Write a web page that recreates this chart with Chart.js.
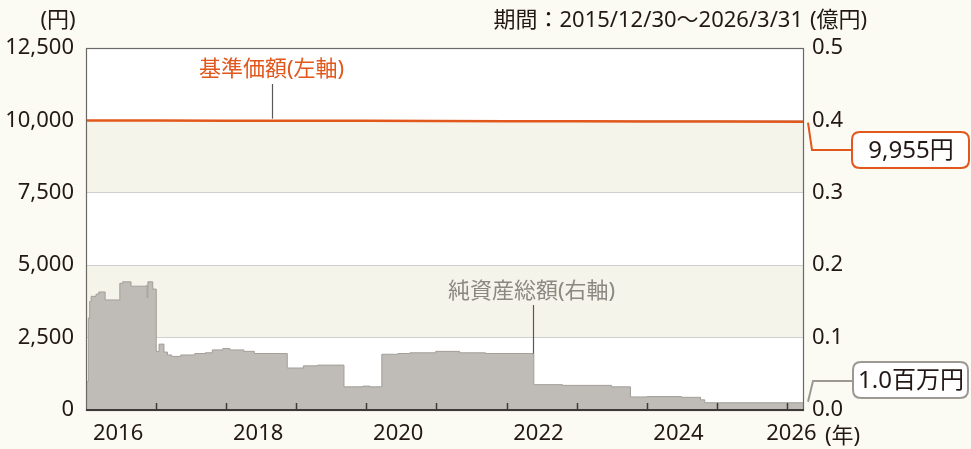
<!DOCTYPE html>
<html lang="ja">
<head>
<meta charset="utf-8">
<script src="https://cdn.jsdelivr.net/npm/chart.js@4/dist/chart.umd.min.js"></script>
<style>
  html, body { margin: 0; padding: 0; background: #fbfaf3; }
  #chart { display: block; }
</style>
</head>
<body>
<canvas id="chart" width="971" height="449"></canvas>
<script>
// 基準価額 (円) - fractional years
const navYears = [2015.997, 2017.0, 2018.0, 2019.0, 2020.0, 2021.0, 2022.0, 2023.0, 2024.0, 2025.0, 2026.247];
const navValues = [10000, 9998, 9991, 9989, 9984, 9976, 9974, 9971, 9963, 9960, 9955];

// 純資産総額 (億円) - value holds until the next date
const assetYears = [
    2015.997, 2016.03, 2016.05, 2016.07, 2016.14, 2016.18, 2016.27, 2016.48, 2016.52, 2016.64,
    2016.86, 2016.87, 2016.88, 2016.95, 2017.0, 2017.04, 2017.11, 2017.16, 2017.22, 2017.35,
    2017.55, 2017.7, 2017.8, 2017.95, 2018.05, 2018.25, 2018.4, 2018.87, 2019.1, 2019.3,
    2019.68, 2019.95, 2020.05, 2020.22, 2020.45, 2020.62, 2020.99, 2021.33, 2021.7, 2022.39,
    2022.8, 2023.5, 2023.77, 2024.0, 2024.5, 2024.77, 2024.83, 2026.247
];
const assetValues = [
    0.039, 0.127, 0.150, 0.157, 0.160, 0.163, 0.152, 0.175, 0.177, 0.171,
    0.172, 0.155, 0.177, 0.167, 0.081, 0.091, 0.080, 0.076, 0.074, 0.076,
    0.078, 0.079, 0.083, 0.085, 0.083, 0.081, 0.078, 0.058, 0.061, 0.062,
    0.032, 0.033, 0.032, 0.077, 0.078, 0.079, 0.081, 0.079, 0.078, 0.035,
    0.034, 0.032, 0.018, 0.0185, 0.0175, 0.014, 0.010, 0.010
];

// x axis labels (years)
const yearLabels = ['2016', '2018', '2020', '2022', '2024', '2026'];
const leftTicks = [0, 2500, 5000, 7500, 10000, 12500];
const rightTicks = [0, 0.1, 0.2, 0.3, 0.4, 0.5];

const FONT = '"Noto Sans", "Noto Sans CJK JP", sans-serif';
const TEXT = '#231815';
const ORANGE = '#e2571c';
const GREY_TEXT = '#8b8884';

function roundRect(ctx, x, y, w, h, r) {
    ctx.beginPath();
    ctx.moveTo(x + r, y);
    ctx.lineTo(x + w - r, y);
    ctx.quadraticCurveTo(x + w, y, x + w, y + r);
    ctx.lineTo(x + w, y + h - r);
    ctx.quadraticCurveTo(x + w, y + h, x + w - r, y + h);
    ctx.lineTo(x + r, y + h);
    ctx.quadraticCurveTo(x, y + h, x, y + h - r);
    ctx.lineTo(x, y + r);
    ctx.quadraticCurveTo(x, y, x + r, y);
    ctx.closePath();
}

// background, plot area and beige bands
const backgroundPlugin = {
    id: 'background',
    beforeDraw(chart) {
        const { ctx, chartArea: a, scales } = chart;
        ctx.save();
        ctx.fillStyle = '#fbfaf3';
        ctx.fillRect(0, 0, chart.width, chart.height);
        ctx.fillStyle = '#ffffff';
        ctx.fillRect(a.left, a.top, a.right - a.left, a.bottom - a.top);
        ctx.fillStyle = '#f5f4ea';
        [[2500, 5000], [7500, 10000]].forEach(([lo, hi]) => {
            const y1 = scales.y.getPixelForValue(hi);
            const y2 = scales.y.getPixelForValue(lo);
            ctx.fillRect(a.left, y1, a.right - a.left, y2 - y1);
        });
        ctx.restore();
    }
};

// frame, inner year ticks, labels and callouts
const decorPlugin = {
    id: 'decor',
    afterDatasetsDraw(chart) {
        const { ctx, chartArea: a, scales } = chart;
        const x = scales.x, y = scales.y, y1 = scales.y1;
        ctx.save();

        // inner tick marks at year boundaries
        ctx.strokeStyle = '#3e3a39';
        ctx.lineWidth = 1.5;
        for (let yr = 2017; yr <= 2026; yr++) {
            const px = Math.round(x.getPixelForValue(yr)) + 0.5;
            ctx.beginPath();
            ctx.moveTo(px, a.bottom);
            ctx.lineTo(px, a.bottom - 7);
            ctx.stroke();
        }

        // frame
        ctx.strokeStyle = '#6b6866';
        ctx.lineWidth = 1.2;
        ctx.strokeRect(a.left + 0.5, a.top + 0.5, a.right - a.left - 1, a.bottom - a.top);
        ctx.strokeStyle = '#3e3a39';
        ctx.lineWidth = 2;
        ctx.beginPath();
        ctx.moveTo(a.left, a.bottom);
        ctx.lineTo(a.right, a.bottom);
        ctx.stroke();

        ctx.font = '22px ' + FONT;
        ctx.textBaseline = 'middle';

        // unit labels
        ctx.fillStyle = TEXT;
        ctx.textAlign = 'center';
        ctx.fillText('(円)', 58, 21);
        ctx.textAlign = 'left';
        ctx.fillText('(億円)', 810, 21);
        ctx.textAlign = 'right';
        ctx.fillText('期間：2015/12/30～2026/3/31', 803, 21);
        ctx.textAlign = 'left';
        ctx.fillText('(年)', 825, 437);

        // series labels with leader lines
        ctx.strokeStyle = '#595757';
        ctx.lineWidth = 1.2;
        const navLx = Math.round(x.getPixelForValue(2018.65)) + 0.5;
        ctx.beginPath();
        ctx.moveTo(navLx, 84);
        ctx.lineTo(navLx, y.getPixelForValue(9991) - 2);
        ctx.stroke();
        ctx.fillStyle = ORANGE;
        ctx.textAlign = 'center';
        ctx.fillText('基準価額(左軸)', navLx - 1, 70);

        const astLx = Math.round(x.getPixelForValue(2022.38)) + 0.5;
        ctx.beginPath();
        ctx.moveTo(astLx, 305);
        ctx.lineTo(astLx, y1.getPixelForValue(0.078));
        ctx.stroke();
        ctx.fillStyle = GREY_TEXT;
        ctx.fillText('純資産総額(右軸)', astLx - 2, 292);

        ctx.font = '24px ' + FONT;

        // callout: latest NAV
        const lastNav = navValues[navValues.length - 1];
        const navY = y.getPixelForValue(lastNav);
        ctx.strokeStyle = ORANGE;
        ctx.lineWidth = 2;
        ctx.beginPath();
        ctx.moveTo(a.right + 4, navY + 1);
        ctx.lineTo(a.right + 8, 150);
        ctx.lineTo(853, 150);
        ctx.stroke();
        roundRect(ctx, 852, 132, 117, 36, 8);
        ctx.fillStyle = '#ffffff';
        ctx.fill();
        ctx.stroke();
        ctx.fillStyle = TEXT;
        ctx.fillText(lastNav.toLocaleString('en-US') + '円', 911, 151);

        // callout: latest net assets
        const lastAst = assetValues[assetValues.length - 1];
        const astY = y1.getPixelForValue(lastAst);
        ctx.strokeStyle = '#9c9995';
        ctx.beginPath();
        ctx.moveTo(a.right + 4, astY - 1);
        ctx.lineTo(a.right + 9, 381);
        ctx.lineTo(854, 381);
        ctx.stroke();
        roundRect(ctx, 853, 362, 115, 36, 8);
        ctx.fillStyle = '#ffffff';
        ctx.fill();
        ctx.stroke();
        ctx.fillStyle = TEXT;
        ctx.fillText((lastAst * 100).toFixed(1) + '百万円', 911, 381);

        ctx.restore();
    }
};

const ctx = document.getElementById('chart').getContext('2d');
new Chart(ctx, {
    type: 'line',
    data: {
        datasets: [
            {
                label: '基準価額',
                data: navYears.map((yr, i) => ({ x: yr, y: navValues[i] })),
                yAxisID: 'y',
                borderColor: ORANGE,
                borderWidth: 2.5,
                pointRadius: 0,
                tension: 0,
                fill: false
            },
            {
                label: '純資産総額',
                data: assetYears.map((yr, i) => ({ x: yr, y: assetValues[i] })),
                yAxisID: 'y1',
                stepped: 'before',
                borderColor: '#a29e99',
                borderWidth: 1,
                backgroundColor: '#bfbbb6',
                pointRadius: 0,
                fill: 'origin'
            }
        ]
    },
    options: {
        responsive: false,
        animation: false,
        layout: { padding: { top: 48, left: 0, right: 0, bottom: 0 } },
        plugins: {
            legend: { display: false },
            tooltip: { enabled: false }
        },
        scales: {
            x: {
                type: 'linear',
                min: 2015.997,
                max: 2026.247,
                afterBuildTicks(scale) {
                    scale.ticks = yearLabels.map(l => ({ value: Math.min(+l + 0.455, scale.max - 0.18) }));
                },
                afterFit(scale) { scale.height = 39; },
                grid: { display: false, drawTicks: false },
                border: { display: false },
                ticks: {
                    autoSkip: false,
                    maxRotation: 0,
                    padding: 11,
                    color: TEXT,
                    font: { family: FONT, size: 22 },
                    callback: (v, i) => yearLabels[i]
                }
            },
            y: {
                position: 'left',
                min: 0,
                max: 12500,
                afterBuildTicks(scale) {
                    scale.ticks = leftTicks.map(v => ({ value: v }));
                },
                afterFit(scale) { scale.width = 86; },
                grid: { color: '#cfcfcf', lineWidth: 1, drawTicks: false },
                border: { display: false },
                ticks: {
                    padding: 12,
                    color: TEXT,
                    font: { family: FONT, size: 22 },
                    callback: v => v.toLocaleString('en-US')
                }
            },
            y1: {
                position: 'right',
                min: 0,
                max: 0.5,
                afterBuildTicks(scale) {
                    scale.ticks = rightTicks.map(v => ({ value: v }));
                },
                afterFit(scale) { scale.width = 167; },
                grid: { display: false, drawTicks: false },
                border: { display: false },
                ticks: {
                    padding: 8,
                    color: TEXT,
                    font: { family: FONT, size: 22 },
                    callback: v => v.toFixed(1)
                }
            }
        }
    },
    plugins: [backgroundPlugin, decorPlugin]
});
</script>
</body>
</html>
